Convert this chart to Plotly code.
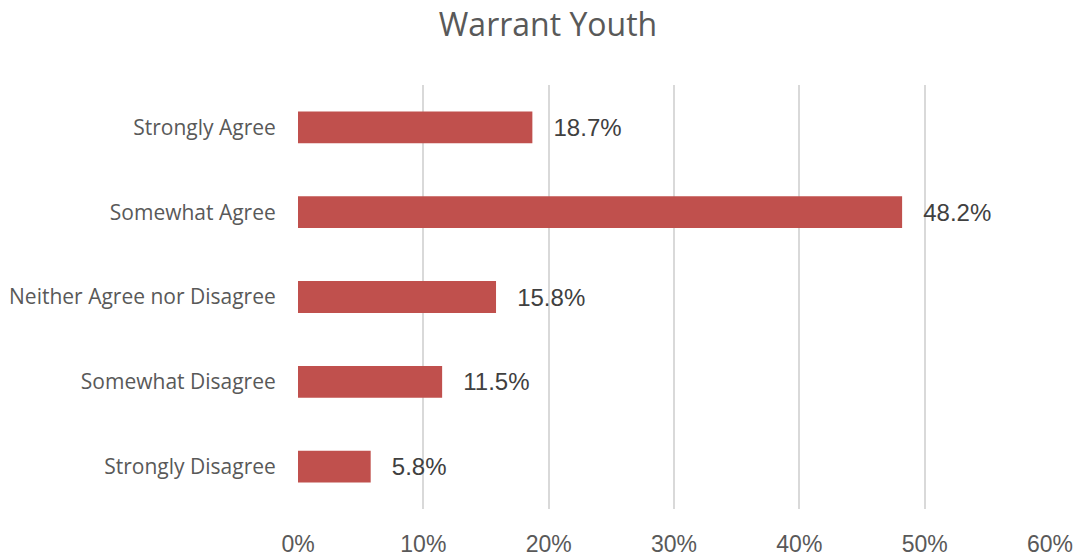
import plotly.graph_objects as go

categories = ["Strongly Agree", "Somewhat Agree", "Neither Agree nor Disagree",
              "Somewhat Disagree", "Strongly Disagree"]
values = [18.7, 48.2, 15.8, 11.5, 5.8]
x_ticks = [0, 10, 20, 30, 40, 50, 60]
x_tick_labels = ["0%", "10%", "20%", "30%", "40%", "50%", "60%"]

fig = go.Figure(go.Bar(
    x=values,
    y=categories,
    orientation="h",
    marker=dict(color="#C0504D", line=dict(width=0)),
    texttemplate="\u00a0\u00a0\u2009%{x:.1f}%",
    textposition="outside",
    textfont=dict(family="Liberation Sans, Arial", size=24, color="#404040"),
    cliponaxis=False,
))

fig.update_layout(
    width=1081, height=560,
    margin=dict(l=298, r=31, t=85, b=51, autoexpand=False),
    paper_bgcolor="white", plot_bgcolor="white",
    title=dict(text="Warrant Youth", x=548/1081, xanchor="center", y=0.955, yanchor="middle",
               font=dict(family="Open Sans", size=32, color="#595959")),
    bargap=0.625,
    showlegend=False,
    xaxis=dict(range=[0, 60], tickvals=x_ticks, ticktext=x_tick_labels,
               showgrid=True, gridcolor="#D9D9D9", gridwidth=2, zeroline=False,
               showline=False, ticks="outside", ticklen=14, tickcolor="rgba(0,0,0,0)",
               tickfont=dict(family="Liberation Sans, Arial", size=23, color="#595959"),
               automargin=False, fixedrange=True),
    yaxis=dict(categoryorder="array", categoryarray=categories[::-1],
               showgrid=False, zeroline=False, showline=False,
               ticks="outside", ticklen=17, tickcolor="rgba(0,0,0,0)",
               tickfont=dict(family="Open Sans", size=21, color="#595959"),
               automargin=False, fixedrange=True),
)

fig.write_html("out.html", config={"displayModeBar": False},
               post_script="document.body.style.margin='0';document.body.style.overflow='hidden';")
